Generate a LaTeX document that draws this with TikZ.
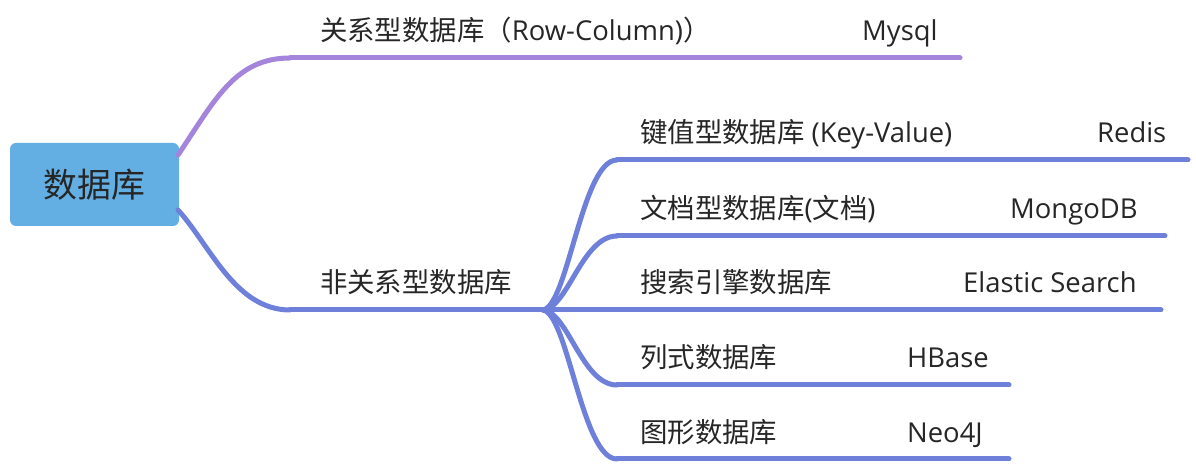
\documentclass[tikz,border=0pt]{standalone}
\usepackage{fontspec}
\setmainfont{Open Sans}
\newfontfamily\cjk{Noto Sans CJK SC}
\usepackage{tikz}

\definecolor{rootblue}{rgb}{0.388,0.682,0.890}
\definecolor{relpurple}{rgb}{0.643,0.522,0.859}
\definecolor{nosqlblue}{rgb}{0.435,0.502,0.855}
\definecolor{inkgray}{rgb}{0.15,0.15,0.15}

\tikzset{
  rootbox/.style={rounded corners=6bp,fill=rootblue,minimum width=169bp,minimum height=83bp,
    font=\cjk\fontsize{34}{40}\selectfont,text=inkgray},
  topic/.style={anchor=base west,inner sep=0pt,font=\fontsize{27.5}{32}\selectfont,text=inkgray},
  relline/.style={draw=relpurple,line width=5bp,line cap=round},
  nosqlline/.style={draw=nosqlblue,line width=5bp,line cap=round},
}

\begin{document}
\begin{tikzpicture}[line join=round]
  \useasboundingbox (0bp,0bp) rectangle (1196bp,464bp);
  %%
  % Node: db
  \node [rootbox] (db) at (94.5bp,279.5bp) {数据库};
  \coordinate (dbup) at (178bp,309bp);
  \coordinate (dbdown) at (178bp,254bp);
  % Points on the underlines
  \coordinate (relA) at (290bp,406bp);
  \coordinate (relB) at (752bp,406bp);
  \coordinate (relC) at (960bp,406bp);
  \coordinate (nosqlA) at (290bp,154bp);
  \coordinate (hub) at (543bp,154bp);
  \coordinate (kvA) at (617bp,304bp);
  \coordinate (kvB) at (987bp,304bp);
  \coordinate (kvC) at (1188bp,304bp);
  \coordinate (docA) at (617bp,228bp);
  \coordinate (docB) at (900bp,228bp);
  \coordinate (docC) at (1165bp,228bp);
  \coordinate (searchA) at (617bp,154bp);
  \coordinate (searchB) at (852bp,154bp);
  \coordinate (searchC) at (1161bp,154bp);
  \coordinate (columnA) at (617bp,79bp);
  \coordinate (columnB) at (797bp,79bp);
  \coordinate (columnC) at (1009bp,79bp);
  \coordinate (graphA) at (617bp,5bp);
  \coordinate (graphB) at (797bp,5bp);
  \coordinate (graphC) at (1009bp,5bp);
  %
  % Edge: db -> rel
  \draw [relline] (dbup) .. controls (215bp,364bp) and (235bp,406bp) .. (relA);
  \draw [relline] (relA) -- (relB);
  % Edge: rel -> mysql
  \draw [relline] (relB) -- (relC);
  % Edge: db -> nosql
  \draw [nosqlline] (dbdown) .. controls (210bp,219bp) and (235bp,154bp) .. (nosqlA);
  \draw [nosqlline] (nosqlA) -- (hub);
  % Edge: nosql -> kv
  \draw [nosqlline] (hub) .. controls (568bp,158bp) and (582bp,304bp) .. (kvA);
  \draw [nosqlline] (kvA) -- (kvB);
  \draw [nosqlline] (kvB) -- (kvC);
  % Edge: nosql -> doc
  \draw [nosqlline] (hub) .. controls (568bp,156bp) and (582bp,228bp) .. (docA);
  \draw [nosqlline] (docA) -- (docB);
  \draw [nosqlline] (docB) -- (docC);
  % Edge: nosql -> search
  \draw [nosqlline] (hub) -- (searchA);
  \draw [nosqlline] (searchA) -- (searchB);
  \draw [nosqlline] (searchB) -- (searchC);
  % Edge: nosql -> column
  \draw [nosqlline] (hub) .. controls (568bp,152bp) and (582bp,79bp) .. (columnA);
  \draw [nosqlline] (columnA) -- (columnB);
  \draw [nosqlline] (columnB) -- (columnC);
  % Edge: nosql -> graph
  \draw [nosqlline] (hub) .. controls (568bp,150bp) and (582bp,5bp) .. (graphA);
  \draw [nosqlline] (graphA) -- (graphB);
  \draw [nosqlline] (graphB) -- (graphC);
  %
  % Node: rel, mysql
  \node [topic] (rel) at (320bp,423bp) {{\cjk 关系型数据库（}Row-Column){\cjk ）}};
  \node [topic] (mysql) at (862bp,423bp) {Mysql};
  % Node: nosql
  \node [topic] (nosql) at (320bp,171bp) {\cjk 非关系型数据库};
  % Node: kv, redis
  \node [topic] (kv) at (640bp,321bp) {{\cjk 键值型数据库} (Key-Value)};
  \node [topic] (redis) at (1097bp,321bp) {Redis};
  % Node: doc, mongo
  \node [topic] (doc) at (640bp,245bp) {{\cjk 文档型数据库}({\cjk 文档})};
  \node [topic] (mongo) at (1010bp,245bp) {MongoDB};
  % Node: search, elastic
  \node [topic] (search) at (640bp,171bp) {\cjk 搜索引擎数据库};
  \node [topic] (elastic) at (963bp,171bp) {Elastic Search};
  % Node: column, hbase
  \node [topic] (column) at (640bp,96bp) {\cjk 列式数据库};
  \node [topic] (hbase) at (907bp,96bp) {HBase};
  % Node: graph, neo
  \node [topic] (graph) at (640bp,22bp) {\cjk 图形数据库};
  \node [topic] (neo) at (907bp,22bp) {Neo4J};
  %
\end{tikzpicture}
\end{document}
